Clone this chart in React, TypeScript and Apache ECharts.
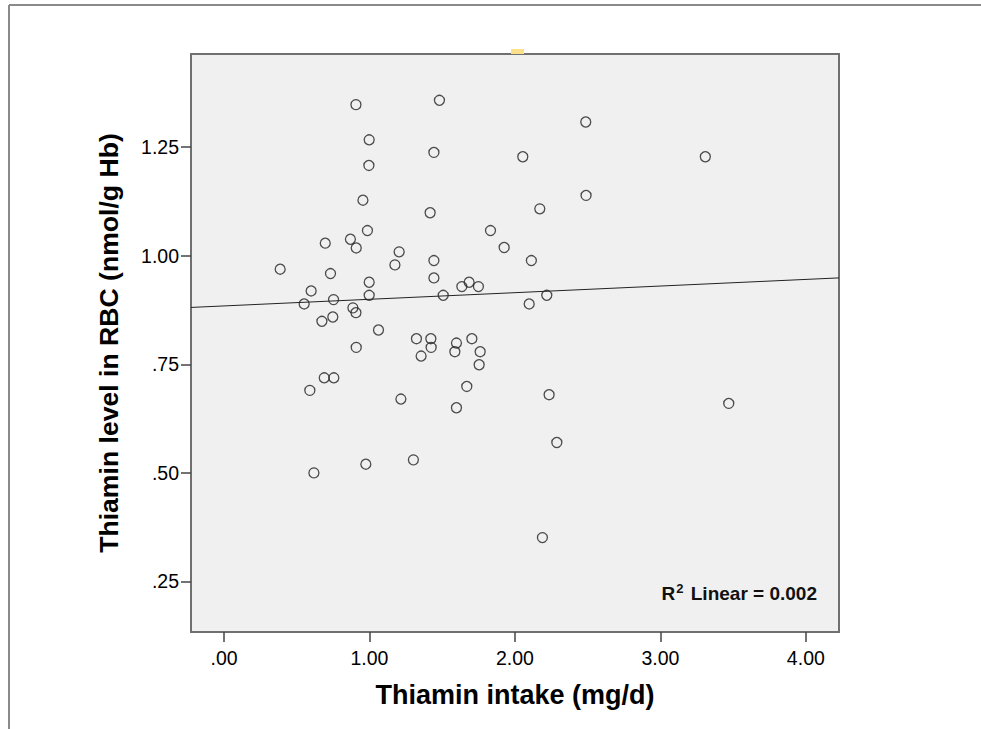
import React, { useEffect, useRef } from "react";
import * as echarts from "echarts";

// Daily thiamin intake (mg/d) per subject
const intake = [
  0.386, 0.907, 1.481, 2.487, 0.998, 1.443, 2.054, 3.309, 0.996, 0.955, 2.489,
  1.417, 2.171, 0.986, 1.832, 0.869, 0.696, 0.909, 1.926, 1.204, 1.175, 1.443,
  2.113, 0.732, 0.998, 1.443, 0.599, 1.635, 1.685, 1.749, 0.998, 1.507, 2.219,
  0.551, 0.753, 2.098, 0.886, 0.907, 0.673, 0.748, 1.062, 1.323, 1.422, 1.424,
  1.355, 0.909, 1.598, 1.704, 1.587, 1.761, 1.754, 0.689, 0.755, 0.59, 1.216,
  1.669, 1.598, 2.235, 3.47, 2.288, 0.975, 1.302, 0.618, 2.189,
];

// Thiamin level in red blood cells (nmol/g Hb), same subjects
const rbcLevel = [
  0.969, 1.348, 1.358, 1.308, 1.267, 1.238, 1.228, 1.228, 1.208, 1.128, 1.139,
  1.099, 1.108, 1.058, 1.058, 1.038, 1.029, 1.018, 1.019, 1.009, 0.979, 0.989,
  0.989, 0.959, 0.939, 0.949, 0.919, 0.929, 0.939, 0.929, 0.909, 0.909, 0.909,
  0.889, 0.899, 0.889, 0.88, 0.869, 0.849, 0.859, 0.829, 0.809, 0.809, 0.789,
  0.769, 0.789, 0.799, 0.809, 0.779, 0.779, 0.749, 0.719, 0.719, 0.69, 0.67,
  0.699, 0.65, 0.68, 0.66, 0.57, 0.52, 0.53, 0.5, 0.351,
];

// Linear fit line end points (intake, level)
const fitLine = [
  [-0.227, 0.881],
  [4.228, 0.949],
];

const xTicks = [0, 1, 2, 3, 4];
const yTicks = [0.25, 0.5, 0.75, 1.0, 1.25];
const rSquared = "0.002";

const fmt = (v: number) => v.toFixed(2).replace(/^0/, "");

const FONT = "'Liberation Sans', Arial, sans-serif";

export default function App() {
  const ref = useRef<HTMLDivElement>(null);

  useEffect(() => {
    if (!ref.current) return;
    const chart = echarts.init(ref.current, null, { renderer: "svg" });
    const points = intake.map((x, i) => [x, rbcLevel[i]]);

    const titleStyle = {
      fontFamily: FONT,
      fontWeight: "bold",
      fontSize: 27,
      color: "#000",
    };
    const tickLabel = {
      fontFamily: FONT,
      fontSize: 19.5,
      color: "#000",
    };

    chart.setOption({
      animation: false,
      backgroundColor: "#ffffff",
      grid: {
        left: 191,
        top: 54,
        width: 648,
        height: 578,
        show: true,
        backgroundColor: "#f0f0f0",
        borderColor: "#707070",
        borderWidth: 2,
      },
      xAxis: {
        type: "value",
        min: -0.227,
        max: 4.228,
        name: "Thiamin intake (mg/d)",
        nameLocation: "middle",
        nameGap: 49,
        nameTextStyle: titleStyle,
        axisLine: { show: false, onZero: false },
        splitLine: { show: false },
        axisTick: {
          show: true,
          length: 10,
          customValues: xTicks,
          lineStyle: { color: "#444", width: 1.5 },
        },
        axisLabel: {
          customValues: xTicks,
          formatter: (v: number) => fmt(v),
          margin: 16,
          ...tickLabel,
        },
      },
      yAxis: {
        type: "value",
        min: 0.1336,
        max: 1.4646,
        name: "Thiamin level in RBC (nmol/g Hb)",
        nameLocation: "middle",
        nameGap: 69,
        nameTextStyle: { ...titleStyle, fontSize: 26.6 },
        axisLine: { show: false, onZero: false },
        splitLine: { show: false },
        axisTick: {
          show: true,
          length: 10,
          customValues: yTicks,
          lineStyle: { color: "#444", width: 1.5 },
        },
        axisLabel: {
          customValues: yTicks,
          formatter: (v: number) => fmt(v),
          margin: 12,
          ...tickLabel,
        },
      },
      series: [
        {
          type: "line",
          data: fitLine,
          symbol: "none",
          lineStyle: { color: "#222", width: 1 },
          silent: true,
          z: 2,
        },
        {
          type: "scatter",
          data: points,
          symbol: "circle",
          symbolSize: 10,
          itemStyle: {
            color: "rgba(0,0,0,0)",
            borderColor: "#222",
            borderWidth: 1.3,
          },
          z: 3,
        },
      ],
      graphic: [
        // outer frame
        {
          type: "line",
          shape: { x1: 9, y1: 5, x2: 981, y2: 5 },
          style: { stroke: "#8a8a8a", lineWidth: 2 },
        },
        {
          type: "line",
          shape: { x1: 9, y1: 5, x2: 9, y2: 729 },
          style: { stroke: "#8a8a8a", lineWidth: 2 },
        },
        // small marker on the top border
        {
          type: "rect",
          shape: { x: 511, y: 49, width: 13, height: 5 },
          style: { fill: "#fbe08c" },
        },
        {
          type: "text",
          right: 981 - 817,
          top: 582,
          style: {
            text: "{r|R}{s|2}{r| Linear = " + rSquared + "}",
            rich: {
              r: {
                fontFamily: FONT,
                fontWeight: "bold",
                fontSize: 19,
                fill: "#111",
                verticalAlign: "bottom",
              },
              s: {
                fontFamily: FONT,
                fontWeight: "bold",
                fontSize: 13,
                fill: "#111",
                padding: [0, 2, 8, 1],
                verticalAlign: "top",
              },
            },
          },
        },
      ],
    });

    return () => chart.dispose();
  }, []);

  return (
    <div
      ref={ref}
      style={{ position: "fixed", left: 0, top: 0, width: 981, height: 729 }}
    />
  );
}
